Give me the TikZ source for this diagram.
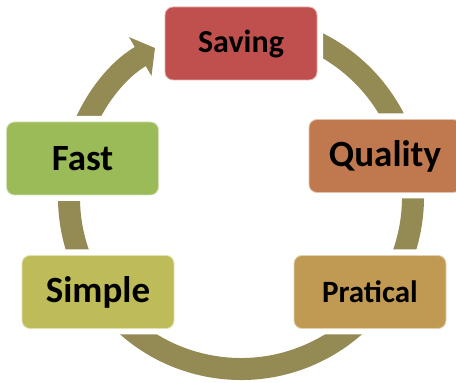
\documentclass[tikz,border=0pt]{standalone}
\usepackage{fontspec}
\setmainfont{Carlito}
\usetikzlibrary{arrows.meta}
\definecolor{myolive}{HTML}{948A54}
\definecolor{myred}{HTML}{C0504D}
\definecolor{myorange}{HTML}{C0784F}
\definecolor{mybrown}{HTML}{C09953}
\definecolor{mykhaki}{HTML}{BEBC58}
\definecolor{mygreen}{HTML}{9BBB59}

\begin{document}
\begin{tikzpicture}[
    x=1pt, y=1pt,
    ring/.style={line width=22pt,draw=myolive},
    stage/.style={rounded corners=8pt,minimum width=152pt,minimum height=73pt,
        preaction={draw=white,line width=12pt},draw=white!55!#1,fill=#1,
        line width=0.8pt,text=black,font=\bfseries\fontsize{37}{42}\selectfont}
]

\useasboundingbox (0,0) rectangle (456,383);

\coordinate (centre) at (241,186);

\draw [ring,-{Triangle[width=44pt,length=17pt]}] ([shift={(80:172)}]centre) arc [start angle=80, end angle=-240, radius=172];

\node [stage=myred,font=\bfseries\fontsize{32}{38}\selectfont] (saving) at (241,339.5) {Saving};
\node [stage=myorange] (quality) at (385,227) {Quality};
\node [stage=mybrown,font=\bfseries\fontsize{31}{36}\selectfont] (pratical) at (370,91) {Pratical};
\node [stage=mykhaki] (simple) at (98,91) {Simple};
\node [stage=mygreen] (fast) at (82.5,224.5) {Fast};

\end{tikzpicture}
\end{document}
